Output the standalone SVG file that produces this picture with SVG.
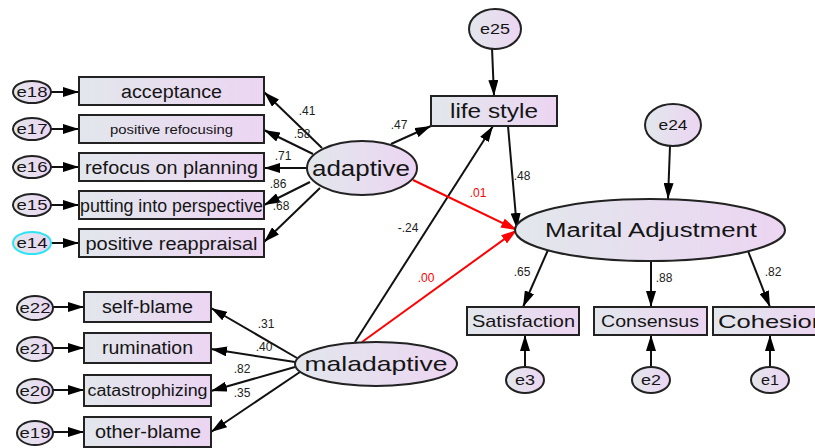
<svg xmlns="http://www.w3.org/2000/svg" width="815" height="448" viewBox="0 0 815 448">
<defs>
<linearGradient id="g" x1="0" y1="0" x2="1" y2="0">
<stop offset="0" stop-color="#e2e7ec"/>
<stop offset="1" stop-color="#ecd5f2"/>
</linearGradient>
<marker id="ab" viewBox="0 0 16 10" refX="16" refY="5" markerWidth="16" markerHeight="10" markerUnits="userSpaceOnUse" orient="auto">
<path d="M0,0 L16,5 L0,10 Z" fill="#000"/>
</marker>
<marker id="ar" viewBox="0 0 16 10" refX="16" refY="5" markerWidth="16" markerHeight="10" markerUnits="userSpaceOnUse" orient="auto">
<path d="M0,0 L16,5 L0,10 Z" fill="#f00"/>
</marker>
</defs>
<style>
.n{fill:url(#g);stroke:#222;stroke-width:2}
.t{font-family:"Liberation Sans",Arial,sans-serif;fill:#151515;text-anchor:middle}
.c{stroke:#111;stroke-width:2;fill:none;marker-end:url(#ab)}
.r{stroke:#f00;stroke-width:2;fill:none;marker-end:url(#ar)}
.l{font-family:"Liberation Sans",Arial,sans-serif;font-size:12px;fill:#222;text-anchor:middle}
.lr{font-family:"Liberation Sans",Arial,sans-serif;font-size:12px;fill:#f00;text-anchor:middle}
</style>
<g id="connectors">
<line class="c" x1="51" y1="92" x2="79" y2="92"/>
<line class="c" x1="51" y1="129" x2="79" y2="129"/>
<line class="c" x1="51" y1="167" x2="79" y2="167"/>
<line class="c" x1="51" y1="205" x2="79" y2="205"/>
<line class="c" x1="51" y1="243" x2="79" y2="243"/>
<line class="c" x1="53" y1="307" x2="84" y2="307"/>
<line class="c" x1="53" y1="348" x2="84" y2="348"/>
<line class="c" x1="53" y1="390" x2="84" y2="390"/>
<line class="c" x1="53" y1="432" x2="84" y2="432"/>
<line class="c" x1="322" y1="148" x2="264" y2="92"/>
<line class="c" x1="313" y1="154" x2="264" y2="130"/>
<line class="c" x1="308" y1="168" x2="264" y2="168"/>
<line class="c" x1="310" y1="182" x2="264" y2="205"/>
<line class="c" x1="320" y1="188" x2="264" y2="242"/>
<line class="c" x1="297" y1="358" x2="211" y2="308"/>
<line class="c" x1="295" y1="362" x2="211" y2="349"/>
<line class="c" x1="295" y1="367" x2="211" y2="391"/>
<line class="c" x1="300" y1="372" x2="211" y2="432"/>
<line class="c" x1="391" y1="144" x2="431" y2="126"/>
<line class="c" x1="355" y1="342" x2="493" y2="126"/>
<line class="c" x1="508" y1="126" x2="517" y2="229"/>
<line class="r" x1="413" y1="180" x2="517" y2="230"/>
<line class="r" x1="362" y1="342" x2="517" y2="230"/>
<line class="c" x1="492" y1="48" x2="494" y2="96"/>
<line class="c" x1="670" y1="146" x2="668" y2="199"/>
<line class="c" x1="548" y1="250" x2="523" y2="307"/>
<line class="c" x1="651" y1="261" x2="651" y2="307"/>
<line class="c" x1="748" y1="251" x2="770" y2="307"/>
<line class="c" x1="525" y1="368" x2="525" y2="335"/>
<line class="c" x1="651" y1="368" x2="651" y2="335"/>
<line class="c" x1="770" y1="368" x2="770" y2="335"/>
<text class="l" x="307" y="115">.41</text>
<text class="l" x="302" y="138">.58</text>
<text class="l" x="283" y="160">.71</text>
<text class="l" x="278" y="188">.86</text>
<text class="l" x="281" y="210">.68</text>
<text class="l" x="399" y="129">.47</text>
<text class="lr" x="478" y="197">.01</text>
<text class="l" x="522" y="180">.48</text>
<text class="l" x="408" y="232">-.24</text>
<text class="lr" x="426" y="282">.00</text>
<text class="l" x="266" y="328">.31</text>
<text class="l" x="264" y="351">.40</text>
<text class="l" x="242" y="373">.82</text>
<text class="l" x="242" y="397">.35</text>
<text class="l" x="522" y="276">.65</text>
<text class="l" x="664" y="282">.88</text>
<text class="l" x="773" y="276">.82</text>
</g>
<g id="e18"><ellipse class="n" cx="32" cy="92" rx="19" ry="11"/><text class="t" x="32" y="97" font-size="15" textLength="31" lengthAdjust="spacingAndGlyphs">e18</text></g>
<g id="e17"><ellipse class="n" cx="32" cy="129" rx="19" ry="11"/><text class="t" x="32" y="134" font-size="15" textLength="31" lengthAdjust="spacingAndGlyphs">e17</text></g>
<g id="e16"><ellipse class="n" cx="32" cy="167" rx="19" ry="11"/><text class="t" x="32" y="172" font-size="15" textLength="31" lengthAdjust="spacingAndGlyphs">e16</text></g>
<g id="e15"><ellipse class="n" cx="32" cy="205" rx="19" ry="11"/><text class="t" x="32" y="210" font-size="15" textLength="31" lengthAdjust="spacingAndGlyphs">e15</text></g>
<g id="e14"><ellipse class="n" cx="32" cy="243" rx="19" ry="11" style="stroke:#2ee4f2"/><text class="t" x="32" y="248" font-size="15" textLength="31" lengthAdjust="spacingAndGlyphs">e14</text></g>
<g id="acceptance"><rect class="n" x="79" y="77" width="185" height="28"/><text class="t" x="171.5" y="98" font-size="18" textLength="101" lengthAdjust="spacingAndGlyphs">acceptance</text></g>
<g id="positive-refocusing"><rect class="n" x="79" y="115" width="185" height="28"/><text class="t" x="171.5" y="134" font-size="13" textLength="123" lengthAdjust="spacingAndGlyphs">positive refocusing</text></g>
<g id="refocus-on-planning"><rect class="n" x="79" y="153" width="185" height="28"/><text class="t" x="171.5" y="174" font-size="18" textLength="173" lengthAdjust="spacingAndGlyphs">refocus on planning</text></g>
<g id="putting-into-perspective"><rect class="n" x="79" y="191" width="185" height="28"/><text class="t" x="171.5" y="212" font-size="18" textLength="183" lengthAdjust="spacingAndGlyphs">putting into perspective</text></g>
<g id="positive-reappraisal"><rect class="n" x="79" y="229" width="185" height="28"/><text class="t" x="171.5" y="250" font-size="18" textLength="172" lengthAdjust="spacingAndGlyphs">positive reappraisal</text></g>
<g id="adaptive"><ellipse class="n" cx="362" cy="168" rx="55" ry="27"/><text class="t" x="361" y="176" font-size="22" textLength="98" lengthAdjust="spacingAndGlyphs">adaptive</text></g>
<g id="e22"><ellipse class="n" cx="35" cy="308" rx="18" ry="12"/><text class="t" x="35" y="313" font-size="15" textLength="31" lengthAdjust="spacingAndGlyphs">e22</text></g>
<g id="e21"><ellipse class="n" cx="35" cy="349" rx="18" ry="12"/><text class="t" x="35" y="354" font-size="15" textLength="31" lengthAdjust="spacingAndGlyphs">e21</text></g>
<g id="e20"><ellipse class="n" cx="35" cy="391" rx="18" ry="12"/><text class="t" x="35" y="396" font-size="15" textLength="31" lengthAdjust="spacingAndGlyphs">e20</text></g>
<g id="e19"><ellipse class="n" cx="35" cy="433" rx="18" ry="12"/><text class="t" x="35" y="438" font-size="15" textLength="31" lengthAdjust="spacingAndGlyphs">e19</text></g>
<g id="self-blame"><rect class="n" x="84" y="292" width="127" height="30"/><text class="t" x="147.5" y="313" font-size="18" textLength="91" lengthAdjust="spacingAndGlyphs">self-blame</text></g>
<g id="rumination"><rect class="n" x="84" y="333" width="127" height="30"/><text class="t" x="147.5" y="354" font-size="18" textLength="91" lengthAdjust="spacingAndGlyphs">rumination</text></g>
<g id="catastrophizing"><rect class="n" x="84" y="375" width="127" height="31"/><text class="t" x="147.5" y="396" font-size="16" textLength="120" lengthAdjust="spacingAndGlyphs">catastrophizing</text></g>
<g id="other-blame"><rect class="n" x="84" y="417" width="127" height="30"/><text class="t" x="148" y="438" font-size="18" textLength="106" lengthAdjust="spacingAndGlyphs">other-blame</text></g>
<g id="maladaptive"><ellipse class="n" cx="376" cy="364" rx="81" ry="22"/><text class="t" x="376" y="371" font-size="21" textLength="143" lengthAdjust="spacingAndGlyphs">maladaptive</text></g>
<g id="e25"><ellipse class="n" cx="495" cy="29" rx="26" ry="20"/><text class="t" x="495" y="34" font-size="15" textLength="30" lengthAdjust="spacingAndGlyphs">e25</text></g>
<g id="life-style"><rect class="n" x="431" y="96" width="126" height="30"/><text class="t" x="494" y="118" font-size="20" textLength="88" lengthAdjust="spacingAndGlyphs">life style</text></g>
<g id="e24"><ellipse class="n" cx="673" cy="125" rx="28" ry="21"/><text class="t" x="673" y="130" font-size="15" textLength="29" lengthAdjust="spacingAndGlyphs">e24</text></g>
<g id="marital-adjustment"><ellipse class="n" cx="650" cy="230" rx="135" ry="31"/><text class="t" x="651" y="237" font-size="20" textLength="212" lengthAdjust="spacingAndGlyphs">Marital Adjustment</text></g>
<g id="satisfaction"><rect class="n" x="467" y="307" width="112" height="28"/><text class="t" x="523.5" y="327" font-size="17" textLength="103" lengthAdjust="spacingAndGlyphs">Satisfaction</text></g>
<g id="consensus"><rect class="n" x="594" y="307" width="113" height="28"/><text class="t" x="650" y="327" font-size="17" textLength="98" lengthAdjust="spacingAndGlyphs">Consensus</text></g>
<g id="cohesion"><rect class="n" x="713" y="307" width="110" height="28"/><text class="t" x="718" y="328" font-size="19" textLength="108" lengthAdjust="spacingAndGlyphs" style="text-anchor:start">Cohesion</text></g>
<g id="e3"><ellipse class="n" cx="525" cy="380" rx="19" ry="13"/><text class="t" x="525" y="385" font-size="15" textLength="20" lengthAdjust="spacingAndGlyphs">e3</text></g>
<g id="e2"><ellipse class="n" cx="651" cy="380" rx="19" ry="13"/><text class="t" x="651" y="385" font-size="15" textLength="20" lengthAdjust="spacingAndGlyphs">e2</text></g>
<g id="e1"><ellipse class="n" cx="770" cy="380" rx="19" ry="13"/><text class="t" x="770" y="385" font-size="15" textLength="18" lengthAdjust="spacingAndGlyphs">e1</text></g>
</svg>
